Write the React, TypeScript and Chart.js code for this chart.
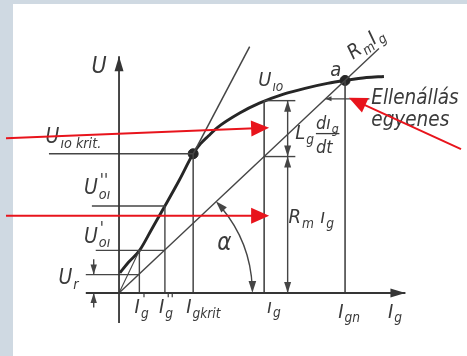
import React, { useEffect, useRef } from "react";
import { Chart, registerables } from "chart.js";

Chart.register(...registerables);

const CANVAS_W = 467;
const CANVAS_H = 356;

// Magnetisation (no-load) curve U_io(Ig) of the generator
const curveI = [0.04, 0.43, 0.91, 1.47, 2.03, 2.67, 3.28, 3.6, 3.95, 4.35, 5.34, 6.21, 7.28, 8.23, 9.22, 10.0, 10.95, 11.72];
const curveU = [0.9, 1.38, 1.9, 2.89, 3.88, 5.04, 6.21, 6.65, 7.0, 7.38, 8.03, 8.47, 8.87, 9.13, 9.35, 9.48, 9.61, 9.66];

// Characteristic currents on the Ig axis: I'g, I''g, Ig krit, ig, Ign
const currentValues = [0.9, 2.03, 3.28, 6.42, 10.0];
const currentLabels = ["I'g", "I''g", "Igkrit", "ig", "Ign"];

// Voltage levels on the U axis: Ur, U'oi, U''oi, Uio krit
const voltageValues = [0.82, 1.9, 3.88, 6.21];
const voltageLabels = ["Ur", "U'oi", "U''oi", "Uio krit"];

// Voltage of the curve at ig and at the working point a
const curveAtIg = 8.58;
const workingU = 9.48;

// Slope of the resistance line U = Rm * Ig
const resistanceSlope = 0.948;
const resistanceEnd = 11.5;

// Tangent to the curve at the critical point
const tangentEnd = [5.78, 10.99];

// Axis extents
const uAxisRange = [-1.34, 10.56];
const iAxisRange = [-1.47, 12.67];

const INK = "#353535";
const THIN = "#454545";
const RED = "#e8141c";
const FONT = `"DejaVu Sans Condensed", "DejaVu Sans", sans-serif`;

type Pt = { x: number; y: number };
const P = (x: number, y: number): Pt => ({ x, y });

function segment(points: Pt[], width = 1.4, color = THIN) {
  return {
    data: points,
    showLine: true,
    borderColor: color,
    borderWidth: width,
    pointRadius: 0,
    pointHoverRadius: 0,
    fill: false,
    tension: 0,
    clip: false as const,
  };
}

type Part = { t: string; k?: "sub" | "sup"; keep?: boolean };

function drawRich(ctx: CanvasRenderingContext2D, parts: Part[], x: number, y: number, size: number) {
  let cx = x;
  for (const p of parts) {
    const fs = p.k === "sub" ? size * 0.68 : p.k === "sup" ? size * 0.8 : size;
    ctx.font = `italic ${fs}px ${FONT}`;
    const dy = p.k === "sub" ? size * 0.22 : p.k === "sup" ? -size * 0.42 : 0;
    const dx = p.k === "sup" ? 1 : 0;
    ctx.fillText(p.t, cx + dx, y + dy);
    if (!p.keep) cx += ctx.measureText(p.t).width + (p.k ? 0.5 : 1);
  }
}

function arrowHead(ctx: CanvasRenderingContext2D, tx: number, ty: number, ang: number, len: number, half: number) {
  ctx.beginPath();
  ctx.moveTo(tx, ty);
  ctx.lineTo(tx - len * Math.cos(ang) + half * Math.sin(ang), ty - len * Math.sin(ang) - half * Math.cos(ang));
  ctx.lineTo(tx - len * Math.cos(ang) - half * Math.sin(ang), ty - len * Math.sin(ang) + half * Math.cos(ang));
  ctx.closePath();
  ctx.fill();
}

type Label = { x: number; y: number; parts: Part[]; size: number; rot?: number };

const labels: Label[] = [
  { x: -1.22, y: 9.8, size: 23, parts: [{ t: "U" }] },
  { x: -3.25, y: 6.68, size: 21, parts: [{ t: "U" }, { t: "ıo krit.", k: "sub" }] },
  { x: -1.55, y: 4.4, size: 21, parts: [{ t: "U" }, { t: "''", k: "sup", keep: true }, { t: "oı", k: "sub" }] },
  { x: -1.55, y: 2.24, size: 21, parts: [{ t: "U" }, { t: "'", k: "sup", keep: true }, { t: "oı", k: "sub" }] },
  { x: -2.68, y: 0.4, size: 21, parts: [{ t: "U" }, { t: "r", k: "sub" }] },
  { x: 0.69, y: -0.9, size: 20, parts: [{ t: "I" }, { t: "'", k: "sup", keep: true }, { t: "g", k: "sub" }] },
  { x: 1.77, y: -0.9, size: 20, parts: [{ t: "I" }, { t: "''", k: "sup", keep: true }, { t: "g", k: "sub" }] },
  { x: 2.97, y: -0.9, size: 20, parts: [{ t: "I" }, { t: "gkrit", k: "sub" }] },
  { x: 6.55, y: -0.88, size: 20, parts: [{ t: "ı" }, { t: "g", k: "sub" }] },
  { x: 9.7, y: -1.1, size: 20, parts: [{ t: "I" }, { t: "gn", k: "sub" }] },
  { x: 11.9, y: -1.1, size: 20, parts: [{ t: "I" }, { t: "g", k: "sub" }] },
  { x: 6.16, y: 9.22, size: 20, parts: [{ t: "U" }, { t: "ıo", k: "sub" }] },
  { x: 9.35, y: 9.7, size: 20, parts: [{ t: "a" }] },
  { x: 10.35, y: 10.4, size: 20, rot: -0.62, parts: [{ t: "R" }, { t: "m", k: "sub" }, { t: "I" }, { t: "g", k: "sub" }] },
  { x: 7.8, y: 6.85, size: 20, parts: [{ t: "L" }, { t: "g", k: "sub" }] },
  { x: 8.71, y: 7.33, size: 18, parts: [{ t: "dı" }, { t: "g", k: "sub" }] },
  { x: 8.71, y: 6.25, size: 18, parts: [{ t: "dt" }] },
  { x: 7.5, y: 3.1, size: 20, parts: [{ t: "R" }, { t: "m", k: "sub" }, { t: " ı" }, { t: "g", k: "sub" }] },
  { x: 4.35, y: 1.9, size: 24, parts: [{ t: "α" }] },
  { x: 11.16, y: 8.41, size: 20.5, parts: [{ t: "Ellenállás" }] },
  { x: 11.16, y: 7.46, size: 20.5, parts: [{ t: "egyenes" }] },
];

// Red pointer arrows: [fromX, fromY, toX, toY]
const pointers = [
  [-5.0, 6.9, 6.64, 7.37],
  [-5.0, 3.45, 6.64, 3.45],
  [15.13, 6.42, 10.17, 8.71],
];

export default function App() {
  const ref = useRef<HTMLCanvasElement | null>(null);

  useEffect(() => {
    const canvas = ref.current;
    if (!canvas) return;

    const [Ig1, Ig2, IgKrit, ig, Ign] = currentValues;
    const [Ur, Uoi1, Uoi2, UloKrit] = voltageValues;
    const resAt = (i: number) => i * resistanceSlope;
    const dimX = 7.46;
    const tickEnd = 7.8;
    const urDimX = -1.12;

    const datasets: any[] = [
      // axes
      segment([P(0, uAxisRange[0]), P(0, uAxisRange[1])], 1.8, INK),
      segment([P(iAxisRange[0], 0), P(iAxisRange[1], 0)], 1.8, INK),
      // vertical guides
      segment([P(Ig1, 0), P(Ig1, Uoi1)]),
      segment([P(Ig2, 0), P(Ig2, Uoi2)]),
      segment([P(IgKrit, 0), P(IgKrit, UloKrit)], 1.5),
      segment([P(ig, 0), P(ig, curveAtIg)], 1.6),
      segment([P(Ign, 0), P(Ign, workingU)], 1.6),
      // horizontal guides
      segment([P(-1.47, Ur), P(Ig1, Ur)]),
      segment([P(-1.03, Uoi1), P(Ig2, Uoi1)]),
      segment([P(-1.2, Uoi2), P(Ig2, Uoi2)]),
      segment([P(-3.1, UloKrit), P(IgKrit, UloKrit)], 1.6),
      // ticks at ig for the dimension arrows
      segment([P(ig, curveAtIg), P(tickEnd, curveAtIg)]),
      segment([P(ig, resAt(ig)), P(tickEnd, resAt(ig))]),
      // dimension lines
      segment([P(dimX, curveAtIg), P(dimX, 0)]),
      segment([P(urDimX, 1.51), P(urDimX, Ur)]),
      segment([P(urDimX, -0.65), P(urDimX, 0)]),
      // construction line from origin to (I'g, U'oi)
      segment([P(0, 0), P(Ig1, Uoi1)], 1.1),
      // resistance line
      segment([P(0, 0), P(resistanceEnd, resAt(resistanceEnd))], 1.4),
      // leader line of the resistance line label
      segment([P(8.66 / resistanceSlope, 8.66), P(11.08, 8.66)], 1.2),
      // tangent at the critical point
      segment([P(IgKrit, UloKrit), P(tangentEnd[0], tangentEnd[1])], 1.5),
      // magnetisation curve
      {
        ...segment(curveI.map((x, i) => P(x, curveU[i])), 2.9, "#262626"),
        cubicInterpolationMode: "monotone",
      },
      // critical point and working point a
      {
        data: [P(IgKrit, UloKrit), P(Ign, workingU)],
        showLine: false,
        pointRadius: 5,
        pointBackgroundColor: "#262626",
        pointBorderColor: "#262626",
        clip: false,
      },
    ];

    const decor = {
      id: "decor",
      beforeDraw(chart: any) {
        const ctx = chart.ctx as CanvasRenderingContext2D;
        ctx.save();
        ctx.fillStyle = "#cfd9e2";
        ctx.fillRect(0, 0, chart.width, chart.height);
        ctx.fillStyle = "#ffffff";
        ctx.fillRect(13, 4, chart.width - 13, chart.height - 4);
        ctx.restore();
      },
      afterDatasetsDraw(chart: any) {
        const ctx = chart.ctx as CanvasRenderingContext2D;
        const xs = chart.scales.x;
        const ys = chart.scales.y;
        const px = (v: number) => xs.getPixelForValue(v);
        const py = (v: number) => ys.getPixelForValue(v);
        ctx.save();

        // axis arrowheads
        ctx.fillStyle = INK;
        arrowHead(ctx, px(0), py(uAxisRange[1]), -Math.PI / 2, 15, 4.5);
        arrowHead(ctx, px(iAxisRange[1]), py(0), 0, 15, 4.5);

        // dimension arrowheads
        const up = -Math.PI / 2;
        const down = Math.PI / 2;
        ctx.fillStyle = THIN;
        arrowHead(ctx, px(dimX), py(curveAtIg), up, 11, 3.5);
        arrowHead(ctx, px(dimX), py(resAt(ig)), down, 11, 3.5);
        arrowHead(ctx, px(dimX), py(resAt(ig)), up, 11, 3.5);
        arrowHead(ctx, px(dimX), py(0), down, 11, 3.5);
        arrowHead(ctx, px(urDimX), py(Ur), down, 10, 3.2);
        arrowHead(ctx, px(urDimX), py(0), up, 10, 3.2);
        // leader hook at the resistance line
        arrowHead(ctx, px(8.66 / resistanceSlope), py(8.66), Math.PI, 6, 2.5);

        // angle alpha between the resistance line and the Ig axis
        const ox = px(0);
        const oy = py(0);
        const r = px(5.9) - px(0);
        const a0 = -Math.atan(resistanceSlope);
        ctx.strokeStyle = THIN;
        ctx.lineWidth = 1.4;
        ctx.beginPath();
        ctx.arc(ox, oy, r, a0 + 0.06, -0.04);
        ctx.stroke();
        arrowHead(ctx, ox + r * Math.cos(a0), oy + r * Math.sin(a0), a0 - Math.PI / 2, 12, 3.8);
        arrowHead(ctx, ox + r, oy, Math.PI / 2, 12, 3.8);

        // labels
        ctx.fillStyle = "#3a3a3a";
        ctx.textBaseline = "alphabetic";
        ctx.textAlign = "left";
        for (const l of labels) {
          if (l.rot) {
            ctx.save();
            ctx.translate(px(l.x), py(l.y));
            ctx.rotate(l.rot);
            drawRich(ctx, l.parts, 0, 0, l.size);
            ctx.restore();
          } else {
            drawRich(ctx, l.parts, px(l.x), py(l.y), l.size);
          }
        }
        // fraction bar of dig/dt
        ctx.strokeStyle = "#3a3a3a";
        ctx.lineWidth = 1.3;
        ctx.beginPath();
        ctx.moveTo(px(8.71), py(7.11));
        ctx.lineTo(px(9.75), py(7.11));
        ctx.stroke();

        // red pointer arrows
        ctx.strokeStyle = RED;
        ctx.fillStyle = RED;
        ctx.lineWidth = 2;
        for (const [x0, y0, x1, y1] of pointers) {
          const ax = px(x0), ay = py(y0), bx = px(x1), by = py(y1);
          const ang = Math.atan2(by - ay, bx - ax);
          ctx.beginPath();
          ctx.moveTo(ax, ay);
          ctx.lineTo(bx - 14 * Math.cos(ang), by - 14 * Math.sin(ang));
          ctx.stroke();
          arrowHead(ctx, bx, by, ang, 18, 8);
        }
        ctx.restore();
      },
    };

    const chart = new Chart(canvas, {
      type: "scatter",
      data: { datasets },
      options: {
        animation: false,
        responsive: false,
        devicePixelRatio: 1,
        layout: { padding: 0 },
        events: [],
        plugins: { legend: { display: false }, tooltip: { enabled: false }, title: { display: false } },
        scales: {
          x: { type: "linear", min: -5, max: 15.129, display: false },
          y: { type: "linear", min: -2.543, max: 12.802, display: false },
        },
      },
      plugins: [decor],
    });

    return () => chart.destroy();
  }, []);

  return (
    <div style={{ position: "fixed", left: 0, top: 0, width: CANVAS_W, height: CANVAS_H }}>
      <canvas ref={ref} width={CANVAS_W} height={CANVAS_H} style={{ display: "block" }} />
    </div>
  );
}
